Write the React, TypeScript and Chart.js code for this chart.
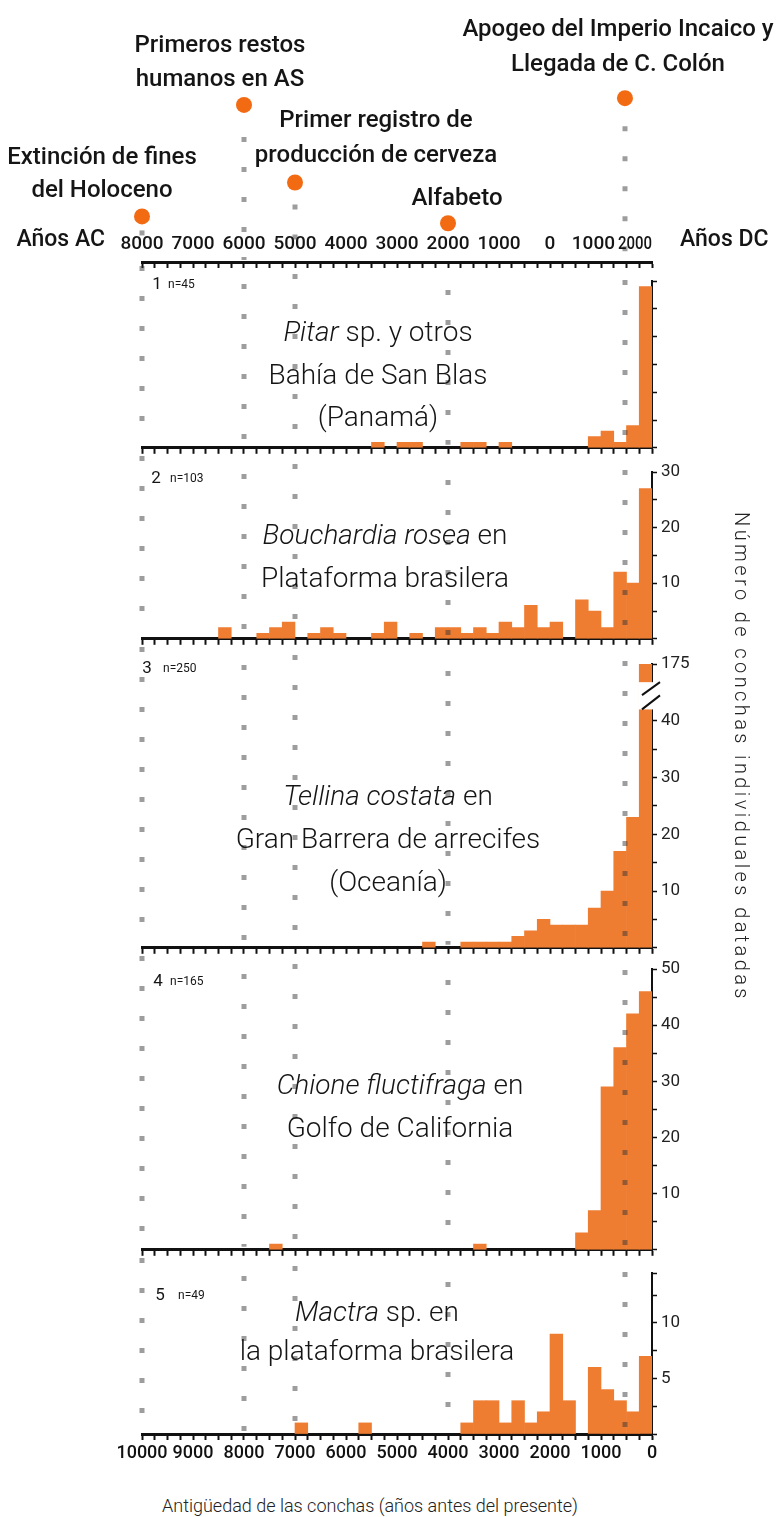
import React, { useEffect, useRef } from "react";
import { Chart, registerables } from "chart.js";

Chart.register(...registerables);

const FONT = "Roboto, 'Noto Sans', sans-serif";
Chart.defaults.font.family = FONT;

// ================= DATA =================
// Age bins (years before present), start of each 250-year bin
const binStartAges = [
  0, 250, 500, 750, 1000, 1250, 1500, 1750, 2000, 2250,
  2500, 2750, 3000, 3250, 3500, 3750, 4000, 4250, 4500, 4750,
  5000, 5250, 5500, 5750, 6000, 6250, 6500, 6750, 7000, 7250,
  7500, 7750, 8000, 8250, 8500, 8750, 9000, 9250, 9500, 9750,
];
const binWidthYears = 250;

// Number of dated shells per bin (youngest bin first)
const pitarCounts = [29, 4, 1, 3, 2, 0, 0, 0, 0, 0, 0, 1, 0, 1, 1, 0, 0, 0, 1, 1, 0, 1, 0, 0, 0, 0, 0, 0, 0, 0, 0, 0, 0, 0, 0, 0, 0, 0, 0, 0];
const bouchardiaCounts = [27, 10, 12, 2, 5, 7, 0, 3, 2, 6, 2, 3, 1, 2, 1, 2, 2, 0, 1, 0, 3, 1, 0, 0, 1, 2, 1, 0, 3, 2, 1, 0, 0, 2, 0, 0, 0, 0, 0, 0];
const tellinaCounts = [175, 23, 17, 10, 7, 4, 4, 4, 5, 3, 2, 1, 1, 1, 1, 0, 0, 1, 0, 0, 0, 0, 0, 0, 0, 0, 0, 0, 0, 0, 0, 0, 0, 0, 0, 0, 0, 0, 0, 0];
const chioneCounts = [46, 42, 36, 29, 7, 3, 0, 0, 0, 0, 0, 0, 0, 1, 0, 0, 0, 0, 0, 0, 0, 0, 0, 0, 0, 0, 0, 0, 0, 1, 0, 0, 0, 0, 0, 0, 0, 0, 0, 0];
const mactraCounts = [7, 2, 3, 4, 6, 0, 3, 9, 2, 1, 3, 1, 3, 3, 1, 0, 0, 0, 0, 0, 0, 0, 1, 0, 0, 0, 0, 1, 0, 0, 0, 0, 0, 0, 0, 0, 0, 0, 0, 0];

const sampleSizes = [45, 103, 250, 165, 49];
const panelNumbers = ["1", "2", "3", "4", "5"];

// Right axis tick values and labelled values
const yTickValues = [
  [0, 5, 10, 15, 20, 25, 30],
  [0, 5, 10, 15, 20, 25, 30],
  [0, 5, 10, 15, 20, 25, 30, 35, 40, 50],
  [0, 5, 10, 15, 20, 25, 30, 35, 40, 45, 50],
  [0, 2.5, 5, 7.5, 10, 12.5, 14.5],
];
const yTickLabelled = [
  [],
  [10, 20, 30],
  [10, 20, 30, 40, 50],
  [10, 20, 30, 40, 50],
  [5, 10],
];
const brokenAxisTopValue = 50; // axis top in panel 3 (break)
const brokenAxisTopLabel = "175";
const breakRange = [42, 46.8];

// Historical events (calendar years; negative = BC)
const referenceYear = 2000; // ages are counted from this year on the top axis
const eventYears = [-8000, -6000, -5000, -2000, 1470];
const eventLabels = [
  ["Extinción de fines", "del Holoceno"],
  ["Primeros restos", "humanos en AS"],
  ["Primer registro de", "producción de cerveza"],
  ["Alfabeto"],
  ["Apogeo del Imperio Incaico y", "Llegada de C. Colón"],
];
const topAxisYears = [-8000, -7000, -6000, -5000, -4000, -3000, -2000, -1000, 0, 1000, 2000];

type Seg = { text: string; italic?: boolean };
const panelTitles: Seg[][][] = [
  [[{ text: "Pitar", italic: true }, { text: " sp. y otros" }], [{ text: "Bahía de San Blas" }], [{ text: "(Panamá)" }]],
  [[{ text: "Bouchardia rosea", italic: true }, { text: " en" }], [{ text: "Plataforma brasilera" }]],
  [[{ text: "Tellina costata", italic: true }, { text: " en" }], [{ text: "Gran Barrera de arrecifes" }], [{ text: "(Oceanía)" }]],
  [[{ text: "Chione fluctifraga", italic: true }, { text: " en" }], [{ text: "Golfo de California" }]],
  [[{ text: "Mactra", italic: true }, { text: " sp. en" }], [{ text: "la plataforma brasilera" }]],
];
const panelCounts = [pitarCounts, bouchardiaCounts, tellinaCounts, chioneCounts, mactraCounts];
const yMaxes = [30, 30, 50, 50, 14.5];

// ================= LAYOUT / STYLE =================
const W = 783;
const PLOT_LEFT = 142;
const PLOT_RIGHT = 652;
const Y_AXIS_W = 45;
const BAR_COLOR = "#EE7D32";
const DOT_COLOR = "#F26A12";
const DOT_LINE_COLOR = "rgba(50,50,50,0.48)";
const TEXT_COLOR = "#151515";
const AXIS_COLOR = "#111";

const eventDotHeights = [47, 162, 82, 40, 169];
const eventLabelLayout = [
  { dx: -40, dy: [-58, -25] },
  { dx: -24, dy: [-59, -25] },
  { dx: 81, dy: [-62, -27] },
  { dx: 9, dy: [-24] },
  { dx: -7, dy: [-68, -33] },
];
const dashPhase = [0, 12, 22, 6, 16];

const panelLayout = [
  { top: 264, areaTop: 17, plotH: 171, xAxisH: 10, titleX: 378, titleY: [334, 377, 419], numX: 157, numY: 285, nX: 168 },
  { top: 454, areaTop: 18, plotH: 171, xAxisH: 10, titleX: 385, titleY: [537, 580], numX: 156, numY: 479, nX: 170 },
  { top: 645, areaTop: 19, plotH: 288, xAxisH: 10, titleX: 388, titleY: [798, 841, 884], numX: 147, numY: 669, nX: 163 },
  { top: 954, areaTop: 15, plotH: 285, xAxisH: 10, titleX: 400, titleY: [1087, 1130], numX: 158, numY: 982, nX: 170 },
  { top: 1256, areaTop: 17, plotH: 161, xAxisH: 40, titleX: 377, titleY: [1314, 1353], numX: 160, numY: 1296, nX: 178 },
];
const TOP_H = 272;
const TOP_AXIS_Y = 262;

// ================= HELPERS =================
function drawSegLine(ctx: CanvasRenderingContext2D, segs: Seg[], cx: number, cy: number, size: number, weight: number) {
  const fonts = segs.map((s) => `${s.italic ? "italic " : ""}${weight} ${size}px ${FONT}`);
  const widths = segs.map((s, i) => {
    ctx.font = fonts[i];
    return ctx.measureText(s.text).width;
  });
  const total = widths.reduce((a, b) => a + b, 0);
  let x = cx - total / 2;
  ctx.textAlign = "left";
  ctx.textBaseline = "middle";
  segs.forEach((s, i) => {
    ctx.font = fonts[i];
    ctx.fillText(s.text, x, cy);
    x += widths[i];
  });
}

function xAxis(showLabels: boolean, height: number) {
  return {
    type: "linear",
    position: "bottom",
    reverse: true,
    min: 0,
    max: 10000,
    offset: false,
    z: 1,
    grid: {
      display: true,
      drawOnChartArea: false,
      drawTicks: true,
      tickLength: 6,
      tickWidth: 2,
      tickColor: AXIS_COLOR,
      offset: false,
    },
    border: { display: true, color: AXIS_COLOR, width: 3 },
    ticks: {
      stepSize: binWidthYears,
      autoSkip: false,
      maxRotation: 0,
      padding: 3,
      color: AXIS_COLOR,
      font: { size: 18, weight: "500", family: FONT },
      callback: (v: number) => (showLabels && v % 1000 === 0 ? String(v) : ""),
    },
    afterFit: (s: any) => {
      s.height = height;
    },
  };
}

// ================= PLUGINS =================
const topPlugin = {
  id: "topDecor",
  beforeDatasetsDraw(chart: any) {
    const { ctx, chartArea } = chart;
    const meta = chart.getDatasetMeta(0);
    ctx.save();
    ctx.strokeStyle = DOT_LINE_COLOR;
    ctx.lineWidth = 5;
    ctx.lineCap = "butt";
    ctx.setLineDash([5, 25]);
    meta.data.forEach((pt: any, i: number) => {
      const x = Math.round(pt.x);
      ctx.lineDashOffset = dashPhase[i];
      ctx.beginPath();
      ctx.moveTo(x, pt.y + 14);
      ctx.lineTo(x, chartArea.bottom - 2);
      ctx.stroke();
    });
    ctx.restore();
  },
  afterDraw(chart: any) {
    const { ctx, chartArea, scales } = chart;
    const meta = chart.getDatasetMeta(0);
    ctx.save();
    ctx.fillStyle = TEXT_COLOR;
    ctx.font = `500 24px ${FONT}`;
    ctx.textAlign = "center";
    ctx.textBaseline = "middle";
    meta.data.forEach((pt: any, i: number) => {
      const lay = eventLabelLayout[i];
      eventLabels[i].forEach((line, j) => {
        ctx.fillText(line, pt.x + lay.dx, pt.y + lay.dy[j]);
      });
    });
    // year labels above the top axis (right-most label kept inside the axis)
    ctx.font = `500 19px ${FONT}`;
    ctx.textBaseline = "alphabetic";
    ctx.textAlign = "center";
    const labels = topAxisYears.map((yr) => String(Math.abs(yr)));
    const widths = labels.map((l) => ctx.measureText(l).width);
    const xs = topAxisYears.map((yr) => scales.x.getPixelForValue(referenceYear - yr));
    const last = labels.length - 1;
    widths[last] = Math.min(widths[last], 34);
    xs[last] = Math.min(xs[last], chartArea.right - widths[last] / 2);
    for (let i = last - 1; i >= 0; i--) {
      const limit = xs[i + 1] - widths[i + 1] / 2 - 3 - widths[i] / 2;
      if (xs[i] > limit) xs[i] = limit;
    }
    labels.forEach((l, i) => {
      ctx.fillText(l, xs[i], chartArea.bottom - 13, widths[i]);
    });
    ctx.font = `500 23px ${FONT}`;
    ctx.textAlign = "right";
    ctx.fillText("Años AC", chartArea.left - 37, chartArea.bottom - 16);
    ctx.textAlign = "left";
    ctx.fillText("Años DC", chartArea.right + 28, chartArea.bottom - 16);
    ctx.restore();
  },
};

const panelPlugin = {
  id: "panelDecor",
  afterDatasetsDraw(chart: any) {
    const { ctx, chartArea, scales } = chart;
    ctx.save();
    ctx.strokeStyle = DOT_LINE_COLOR;
    ctx.lineWidth = 5;
    ctx.lineCap = "butt";
    ctx.setLineDash([5, 25]);
    eventYears.forEach((yr, i) => {
      const x = Math.round(scales.x.getPixelForValue(referenceYear - yr));
      ctx.lineDashOffset = dashPhase[i];
      ctx.beginPath();
      ctx.moveTo(x, 2);
      ctx.lineTo(x, chartArea.bottom - 3);
      ctx.stroke();
    });
    ctx.restore();
  },
  afterDraw(chart: any, _args: any, opts: any) {
    const idx = opts.index as number;
    const lay = panelLayout[idx];
    const { ctx, chartArea, scales } = chart;
    ctx.save();
    if (idx === 2) {
      // axis break for the youngest (very tall) bar
      const yTop = scales.y.getPixelForValue(breakRange[1]);
      const yBot = scales.y.getPixelForValue(breakRange[0]);
      const xl = scales.x.getPixelForValue(binWidthYears) - 1;
      ctx.fillStyle = "#fff";
      ctx.fillRect(xl, yTop, chartArea.right + 6 - xl, yBot - yTop);
      ctx.strokeStyle = AXIS_COLOR;
      ctx.lineWidth = 2;
      ctx.beginPath();
      ctx.moveTo(chartArea.right + 8, yTop);
      ctx.lineTo(chartArea.right - 10, yTop + 13);
      ctx.moveTo(chartArea.right + 8, yBot - 14);
      ctx.lineTo(chartArea.right - 10, yBot);
      ctx.stroke();
    }
    // titles
    ctx.fillStyle = TEXT_COLOR;
    panelTitles[idx].forEach((segs, j) => {
      drawSegLine(ctx, segs, lay.titleX, lay.titleY[j] - lay.top, 28, 300);
    });
    // panel number + sample size
    ctx.textAlign = "center";
    ctx.textBaseline = "middle";
    ctx.font = `400 17px ${FONT}`;
    ctx.fillText(panelNumbers[idx], lay.numX, lay.numY - lay.top);
    ctx.textAlign = "left";
    ctx.font = `400 12px ${FONT}`;
    ctx.fillText(`n=${sampleSizes[idx]}`, lay.nX, lay.numY - lay.top);
    ctx.restore();
  },
};

// ================= CONFIGS =================
function makeTopConfig(): any {
  return {
    type: "scatter",
    data: {
      datasets: [
        {
          data: eventYears.map((yr, i) => ({ x: referenceYear - yr, y: eventDotHeights[i] })),
          backgroundColor: DOT_COLOR,
          pointRadius: 8,
          pointHoverRadius: 8,
          borderWidth: 0,
          clip: false,
        },
      ],
    },
    options: {
      animation: false,
      responsive: false,
      events: [],
      layout: { padding: { left: PLOT_LEFT, right: W - PLOT_RIGHT, top: 0, bottom: 0 } },
      plugins: { legend: { display: false }, tooltip: { enabled: false } },
      scales: {
        x: xAxis(false, TOP_H - TOP_AXIS_Y),
        y: { display: false, min: 0, max: TOP_AXIS_Y },
      },
    },
    plugins: [topPlugin],
  };
}

function makePanelConfig(idx: number): any {
  const lay = panelLayout[idx];
  const ticksVals = yTickValues[idx];
  const labelled = yTickLabelled[idx];
  return {
    type: "bar",
    data: {
      datasets: [
        {
          // empty bins are left out (null) so no zero-height sliver is drawn
          data: panelCounts[idx].map((c, i) => ({ x: binStartAges[i] + binWidthYears / 2, y: c > 0 ? c : null })),
          backgroundColor: BAR_COLOR,
          borderWidth: 0,
          barPercentage: 1,
          categoryPercentage: 1,
          clip: 0,
        },
      ],
    },
    options: {
      animation: false,
      responsive: false,
      events: [],
      layout: { padding: { left: PLOT_LEFT, right: W - PLOT_RIGHT - Y_AXIS_W, top: lay.areaTop, bottom: 0 } },
      plugins: { legend: { display: false }, tooltip: { enabled: false }, panelDecor: { index: idx } },
      scales: {
        x: xAxis(idx === 4, lay.xAxisH),
        y: {
          type: "linear",
          position: "right",
          min: 0,
          max: yMaxes[idx],
          z: 1,
          grid: { drawOnChartArea: false, drawTicks: true, tickLength: 5, tickWidth: 1.5, tickColor: AXIS_COLOR },
          border: { display: true, color: AXIS_COLOR, width: 2 },
          ticks: {
            autoSkip: false,
            padding: 4,
            color: "#222",
            font: { size: 17, family: FONT },
            callback: (v: number) => {
              if (!labelled.includes(v)) return "";
              if (idx === 2 && v === brokenAxisTopValue) return brokenAxisTopLabel;
              return String(v);
            },
          },
          afterBuildTicks: (s: any) => {
            s.ticks = ticksVals.map((v) => ({ value: v }));
          },
          afterFit: (s: any) => {
            s.width = Y_AXIS_W;
          },
        },
      },
    },
    plugins: [panelPlugin],
  };
}

// ================= COMPONENTS =================
function ChartCanvas({ top, height, make }: { top: number; height: number; make: () => any }) {
  const ref = useRef<HTMLCanvasElement>(null);
  useEffect(() => {
    const chart = new Chart(ref.current as HTMLCanvasElement, make());
    return () => chart.destroy();
  }, []);
  return (
    <canvas
      ref={ref}
      width={W}
      height={height}
      style={{ position: "absolute", left: 0, top, width: W, height }}
    />
  );
}

export default function App() {
  return (
    <div
      style={{
        position: "absolute",
        left: 0,
        top: 0,
        width: W,
        height: 1517,
        background: "#fff",
        overflow: "hidden",
        fontFamily: FONT,
      }}
    >
      <ChartCanvas top={0} height={TOP_H} make={makeTopConfig} />
      {panelLayout.map((lay, i) => (
        <ChartCanvas
          key={i}
          top={lay.top}
          height={lay.areaTop + lay.plotH + lay.xAxisH}
          make={() => makePanelConfig(i)}
        />
      ))}
      <div
        style={{
          position: "absolute",
          left: 730,
          top: 757,
          transform: "translateY(-50%)",
          writingMode: "vertical-rl",
          font: `300 20px ${FONT}`,
          letterSpacing: "3.4px",
          lineHeight: "24px",
          color: "#222",
          whiteSpace: "nowrap",
        }}
      >
        Número de conchas individuales datadas
      </div>
      <div
        style={{
          position: "absolute",
          left: 370,
          top: 1505,
          transform: "translate(-50%, -50%)",
          font: `300 18px ${FONT}`,
          color: "#222",
          whiteSpace: "nowrap",
        }}
      >
        Antigüedad de las conchas (años antes del presente)
      </div>
    </div>
  );
}
